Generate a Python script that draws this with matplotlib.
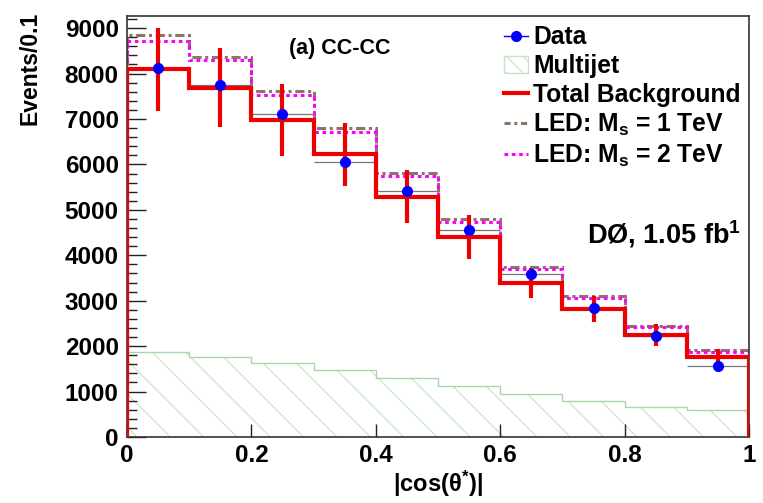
import numpy as np
import matplotlib
matplotlib.use('Agg')
import matplotlib.pyplot as plt
from matplotlib.lines import Line2D
from matplotlib.patches import Patch

plt.rcParams['font.family'] = ['Liberation Sans', 'DejaVu Sans']
plt.rcParams['font.weight'] = 'bold'
plt.rcParams['mathtext.fontset'] = 'custom'
plt.rcParams['mathtext.rm'] = 'Liberation Sans:bold'
plt.rcParams['mathtext.it'] = 'Liberation Sans:bold'
plt.rcParams['mathtext.bf'] = 'Liberation Sans:bold'
plt.rcParams['hatch.linewidth'] = 0.8

# bins in |cos(theta*)|
edges = np.linspace(0, 1, 11)
centers = 0.5 * (edges[:-1] + edges[1:])

data = [8130, 7750, 7120, 6050, 5420, 4560, 3580, 2830, 2230, 1570]
bkg = [8095, 7690, 6980, 6225, 5290, 4400, 3395, 2815, 2245, 1755]
bkg_err = [910, 873, 797, 697, 590, 485, 335, 294, 242, 183]
led1 = [8840, 8363, 7614, 6806, 5815, 4790, 3745, 3095, 2450, 1905]
led2 = [8720, 8297, 7526, 6703, 5750, 4740, 3700, 3060, 2420, 1880]
multijet = [1879, 1768, 1636, 1476, 1300, 1123, 947, 800, 667, 595]

fig = plt.figure(figsize=(7.63, 5.03), dpi=100)
ax = fig.add_axes([0.1664, 0.1312, 0.8153, 0.8368])

brown = '#8a7566'
mag = '#ff00ff'
hcol = '#c4e4c4'

# multijet: faint hatch plus a light green outline
ax.stairs(multijet, edges, fill=True, facecolor='none', edgecolor=hcol,
          hatch='\\', linewidth=0, zorder=1)
ax.stairs(multijet, edges, color='#a8d8a8', linewidth=1.0, zorder=1)
ax.stairs(led1, edges, color=brown, linewidth=2.2, linestyle=(0, (3, 1.2, 1, 1.2)), zorder=2)
ax.stairs(led2, edges, color=mag, linewidth=2.2, linestyle=(0, (1.2, 1.2)), zorder=2)
ax.errorbar(centers, data, xerr=0.05, fmt='none', ecolor='#777777', elinewidth=0.9, zorder=3)
ax.stairs(bkg, edges, color='#ee0000', linewidth=3.0, zorder=4)
ax.errorbar(centers, bkg, yerr=bkg_err, fmt='none', ecolor='#ee0000', elinewidth=3.0, zorder=4)
ax.plot(centers, data, 'o', color='#0000ff', markersize=7, zorder=5)

ax.set_xlim(0, 1)
ax.set_ylim(0, 9265)
ax.set_xticks([0, 0.2, 0.4, 0.6, 0.8, 1.0])
ax.set_xticklabels(['0', '0.2', '0.4', '0.6', '0.8', '1'])
ax.set_yticks(np.arange(0, 9001, 1000))
ax.set_yticks(np.arange(0, 9265, 200), minor=True)
ax.tick_params(axis='y', which='major', direction='in', length=13.5, width=1.0,
               labelsize=17.5, pad=6, colors='#222222', labelcolor='black')
ax.tick_params(axis='y', which='minor', direction='in', length=7, width=1.0, colors='#222222')
ax.tick_params(axis='x', which='major', direction='in', length=9.5, width=1.0,
               labelsize=17.5, pad=5, colors='#222222', labelcolor='black')
for s in ax.spines.values():
    s.set_color('#333333')
    s.set_linewidth(1.2)

fig.text(30 / 763, 1 - 68 / 503, 'Events/0.1', rotation=90, ha='center', va='center',
         fontsize=16.5, fontweight='bold')
fig.text(438 / 763, 1 - 484 / 503, '|cos(θ$^{*}$)|', ha='center', va='center',
         fontsize=17, fontweight='bold')

ax.text(0.342, 0.924, '(a) CC-CC', transform=ax.transAxes, ha='center', va='center',
        fontsize=15.5, fontweight='bold')
ax.text(0.988, 0.482, 'DØ, 1.05 fb$^{1}$', transform=ax.transAxes, ha='right', va='center',
        fontsize=19.5, fontweight='bold')

handles = [
    Line2D([], [], color='#0000ff', marker='o', markersize=7, linewidth=1.0),
    Patch(facecolor='none', edgecolor=hcol, hatch='\\\\'),
    Line2D([], [], color='#ee0000', linewidth=3.0),
    Line2D([], [], color=brown, linewidth=2.2, linestyle=(0, (2, 1.2, 1, 1.2))),
    Line2D([], [], color=mag, linewidth=2.2, linestyle=(0, (1.2, 1.2))),
]
labels = ['Data', 'Multijet', 'Total Background',
          'LED: M$_{\\rm s}$ = 1 TeV', 'LED: M$_{\\rm s}$ = 2 TeV']
leg = ax.legend(handles, labels, loc='upper left', bbox_to_anchor=(0.598, 0.99),
                frameon=False, fontsize=17.7, handlelength=1.0, handletextpad=0.2,
                labelspacing=0.2, borderpad=0.2, borderaxespad=0)

fig.savefig('out.png', dpi=100)
